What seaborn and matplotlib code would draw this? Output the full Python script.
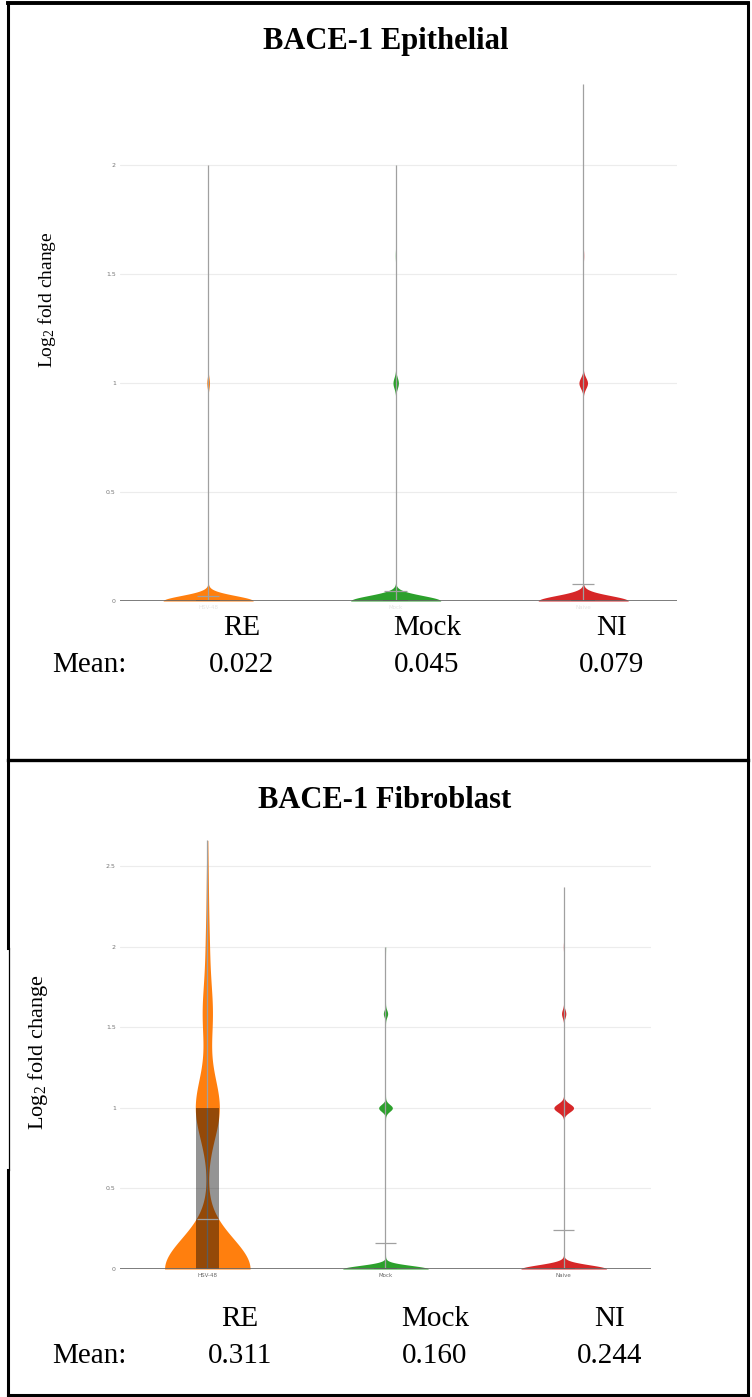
import numpy as np
import pandas as pd
import matplotlib
matplotlib.use("Agg")
import matplotlib.pyplot as plt
import seaborn as sns
from matplotlib.lines import Line2D
from matplotlib.patches import Rectangle

# ---------------- data ----------------
categories = ["RE", "Mock", "NI"]
tick_labels = ["HSV-48", "Mock", "Naive"]
colors = ["#ff7f0e", "#2ca02c", "#d62728"]

# Epithelial panel: discrete log2 fold-change levels and their counts
levels_epi = [0, 1, 1.585, 2, 2.37]
counts_epi_re = [1000, 30, 0, 1, 0]
counts_epi_mock = [1000, 60, 8, 1, 0]
counts_epi_ni = [1000, 95, 10, 0, 1]
means_epi = [0.022, 0.045, 0.079]
yticks_epi = [0, 0.5, 1, 1.5, 2]
yticklabels_epi = ["0", "0.5", "1", "1.5", "2"]

# Fibroblast panel
levels_fib = [0, 1, 1.585, 2, 2.37, 2.66]
counts_fib_re = [700, 196, 80, 28, 13, 4]
counts_fib_mock = [1000, 160, 50, 3, 0, 0]
counts_fib_ni = [1000, 230, 50, 8, 2, 0]
means_fib = [0.311, 0.160, 0.244]
yticks_fib = [0, 0.5, 1, 1.5, 2, 2.5]
yticklabels_fib = ["0", "0.5", "1", "1.5", "2", "2.5"]

mean_strings_epi = ["0.022", "0.045", "0.079"]
mean_strings_fib = ["0.311", "0.160", "0.244"]

# ---------------- style ----------------
sns.set_style("white")
plt.rcParams["font.family"] = ["Liberation Serif", "DejaVu Serif"]
plt.rcParams["text.color"] = "black"
plt.rcParams["mathtext.fontset"] = "custom"
plt.rcParams["mathtext.rm"] = "Liberation Serif"
plt.rcParams["mathtext.it"] = "Liberation Serif:italic"

W, H = 752, 1397
fig = plt.figure(figsize=(W / 100, H / 100), dpi=100)
fig.patch.set_facecolor("white")


def px_axes(left, right, y0_px, top_px):
    return fig.add_axes([left / W, 1 - y0_px / H, (right - left) / W, (y0_px - top_px) / H])


def draw_panel(ax, levels, counts_list, bws, means, xlim, ylim, yticks, yticklabels, xtick_color):
    for i, (cnts, col, bw) in enumerate(zip(counts_list, colors, bws)):
        vals = np.repeat(np.array(levels, dtype=float), cnts)
        df = pd.DataFrame({"group": [categories[i]] * len(vals), "value": vals})
        sns.violinplot(data=df, x="group", y="value", order=categories, color=col,
                       saturation=1, inner=None, cut=0, density_norm="width",
                       width=0.48, linewidth=0, bw_method=bw / np.std(vals, ddof=1),
                       gridsize=3000, ax=ax)
        ax.vlines(i, vals.min(), vals.max(), color="#a0a0a0", lw=0.9, zorder=3)
        q1, med, q3 = np.percentile(vals, [25, 50, 75])
        ax.add_patch(Rectangle((i - 0.065, q1), 0.13, q3 - q1, facecolor="black",
                               alpha=0.42, edgecolor="none", zorder=4))
        ax.hlines(med, i - 0.065, i + 0.065, color="#333333", lw=1.2, zorder=5)
        ax.hlines(means[i], i - 0.06, i + 0.06, color="#a0a0a0", lw=0.9, zorder=5)
    ax.set_xlim(*xlim)
    ax.set_ylim(*ylim)
    ax.set_yticks(yticks, labels=yticklabels)
    ax.set_xticks([0, 1, 2], labels=tick_labels)
    ax.yaxis.grid(True, color="#ececec", lw=0.8)
    ax.xaxis.grid(False)
    ax.set_axisbelow(True)
    for s in ax.spines.values():
        s.set_visible(False)
    ax.axhline(0, color="#666666", lw=1.2, zorder=6)
    ax.set_xlabel("")
    ax.set_ylabel("")
    ax.tick_params(axis="y", length=0, pad=3, labelsize=4.5, labelcolor="#777777")
    ax.tick_params(axis="x", length=0, pad=3, labelsize=4, labelcolor=xtick_color)
    for lab in ax.get_yticklabels() + ax.get_xticklabels():
        lab.set_fontfamily("DejaVu Sans")
    ax.set_facecolor("none")


# top panel
ax1 = px_axes(120, 677, 601, 80)
draw_panel(ax1, levels_epi, [counts_epi_re, counts_epi_mock, counts_epi_ni],
           [0.025, 0.025, 0.025], means_epi, (-0.47, 2.5), (0, 2.39),
           yticks_epi, yticklabels_epi, "#e6e6e6")

# bottom panel
ax2 = px_axes(120, 651, 1269, 834)
draw_panel(ax2, levels_fib, [counts_fib_re, counts_fib_mock, counts_fib_ni],
           [0.19, 0.022, 0.026], means_fib, (-0.49, 2.49), (0, 2.7),
           yticks_fib, yticklabels_fib, "#666666")

# titles
fig.text(386 / W, 1 - 42 / H, "BACE-1 Epithelial", ha="center", va="center",
         fontsize=22, fontweight="bold", color="black")
fig.text(385 / W, 1 - 800 / H, "BACE-1 Fibroblast", ha="center", va="center",
         fontsize=22, fontweight="bold", color="black")

# y labels
fig.text(47 / W, 1 - 300 / H, r"Log$_\mathrm{2}$ fold change", rotation=90,
         ha="center", va="center", fontsize=14, color="black")
fig.text(38 / W, 1 - 1052 / H, r"Log$_\mathrm{2}$ fold change", rotation=90,
         ha="center", va="center", fontsize=16, color="black")

# category labels and means
cat_x_epi = [242, 427, 612]
cat_x_fib = [240, 435, 610]
for x, c in zip(cat_x_epi, categories):
    fig.text(x / W, 1 - 628 / H, c, ha="center", va="center", fontsize=21, color="black")
for x, m in zip(cat_x_epi, mean_strings_epi):
    fig.text(x / W, 1 - 665 / H, m, ha="center", va="center", fontsize=21, color="black")
fig.text(52 / W, 1 - 665 / H, "Mean:", ha="left", va="center", fontsize=21, color="black")

for x, c in zip(cat_x_fib, categories):
    fig.text(x / W, 1 - 1319 / H, c, ha="center", va="center", fontsize=21, color="black")
for x, m in zip(cat_x_fib, mean_strings_fib):
    fig.text(x / W, 1 - 1356 / H, m, ha="center", va="center", fontsize=21, color="black")
fig.text(52 / W, 1 - 1356 / H, "Mean:", ha="left", va="center", fontsize=21, color="black")

# borders
def fline(x0, y0, x1, y1, lw=2.2):
    fig.add_artist(Line2D([x0 / W, x1 / W], [1 - y0 / H, 1 - y1 / H],
                          color="black", lw=lw, solid_capstyle="projecting",
                          transform=fig.transFigure))

fline(8, 2.5, 748, 2.5, lw=2.8)      # top
fline(748, 2.5, 748, 1395)           # right
fline(8, 2.5, 8, 948)                # left upper
fline(8, 1170, 8, 1395)              # left lower
fline(9, 948, 9, 1170, lw=0.9)       # thin part behind y-label
fline(8, 760, 748, 760, lw=2.4)      # separator
fline(8, 1395, 748, 1395)            # bottom

fig.savefig("out.png", dpi=100, facecolor="white")
